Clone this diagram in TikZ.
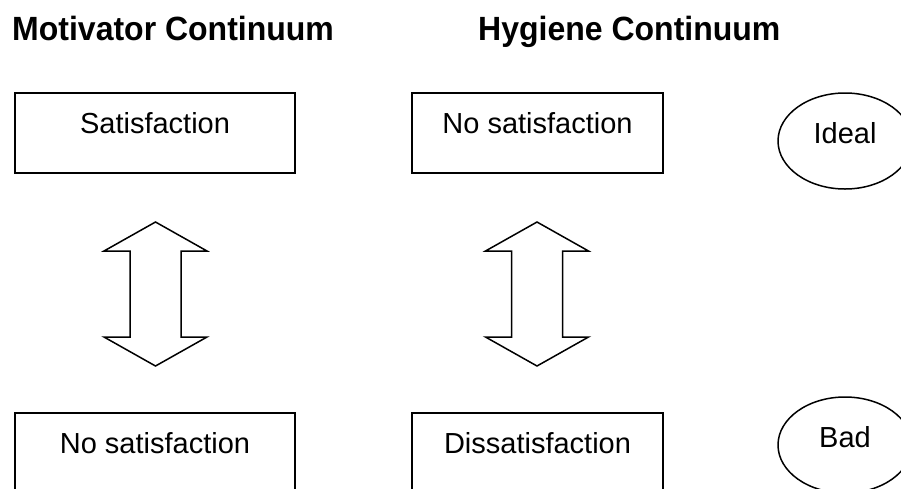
\documentclass[tikz,border=0pt]{standalone}
\usepackage{fontspec}
\usepackage{graphicx}
\setmainfont{Liberation Sans}
\usetikzlibrary{shapes.geometric}
\begin{document}
\begin{tikzpicture}[x=1pt,y=-1pt,
  boxtext/.style={font=\fontsize{29}{34}\selectfont},
  titletext/.style={font=\fontsize{32}{38}\selectfont\bfseries, inner sep=0pt},
  stagebox/.style={draw, line width=2pt, rectangle, inner sep=0pt,
    minimum height=80pt, text height=23pt, text depth=23pt, boxtext},
  stateoval/.style={draw, line width=1.5pt, ellipse, inner sep=0pt,
    minimum width=134pt, minimum height=96pt, text height=23pt, text depth=19pt, boxtext},
  dblarrow/.pic={\draw[line width=1.5pt, line join=miter]
    (0,-72) -- (51.5,-43) -- (25.5,-43) -- (25.5,43) -- (51.5,43) -- (0,72)
    -- (-51.5,43) -- (-25.5,43) -- (-25.5,-43) -- (-51.5,-43) -- cycle;}
]
\useasboundingbox (0,0) rectangle (901,488);
\clip (0,0) rectangle (901,488);
% titles
\node[titletext, anchor=base west] (t1) at (12,40) {\scalebox{1}[1.05]{Motivator Continuum}};
\node[titletext, anchor=base west] (t2) at (478,40) {\scalebox{1}[1.05]{Hygiene Continuum}};
% boxes
\node[stagebox, minimum width=280pt] (msat) at (155,133) {Satisfaction};
\node[stagebox, minimum width=251pt] (hnosat) at (537.5,133) {No satisfaction};
\node[stagebox, minimum width=280pt] (mnosat) at (155,453) {No satisfaction};
\node[stagebox, minimum width=251pt] (hdis) at (537.5,453) {Dissatisfaction};
% ovals
\node[stateoval] (ideal) at (845,141) {Ideal};
\node[stateoval] (bad) at (845,445) {Bad};
% double arrows
\coordinate (marr) at (155.5,294);
\coordinate (harr) at (537,294);
\pic at (marr) {dblarrow};
\pic at (harr) {dblarrow};
\end{tikzpicture}
\end{document}
